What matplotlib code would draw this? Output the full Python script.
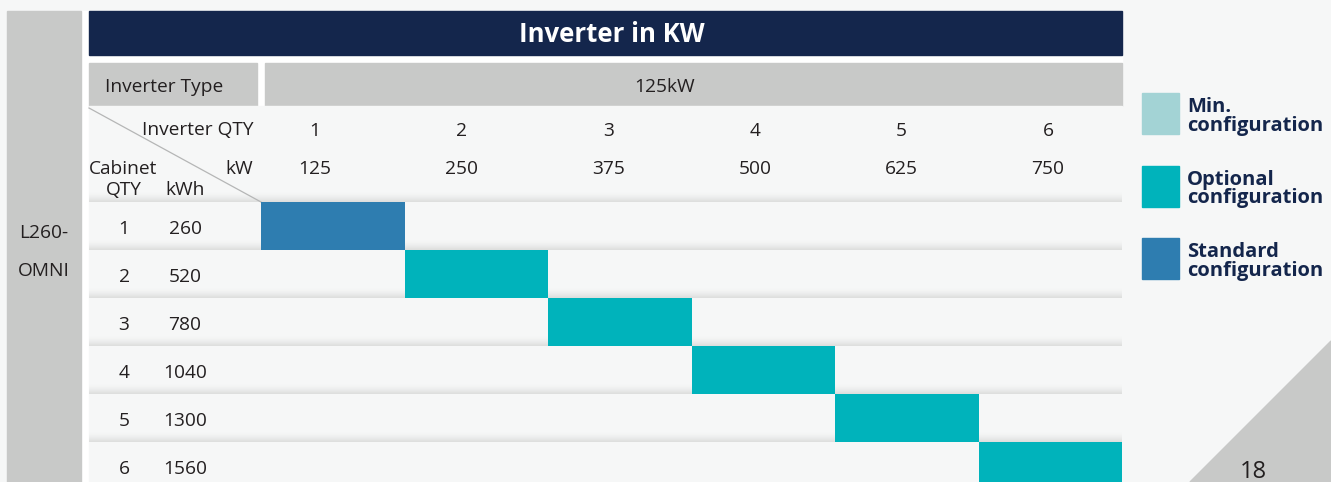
import matplotlib
matplotlib.use("Agg")
import matplotlib.pyplot as plt
from matplotlib.patches import Rectangle, Polygon
from matplotlib.colors import LinearSegmentedColormap
import numpy as np

plt.rcParams['font.family'] = ['Open Sans', 'DejaVu Sans']

# ---- data ----
title = "Inverter in KW"
inverter_type = "125kW"
inverter_qty = [1, 2, 3, 4, 5, 6]
inverter_kw = [125, 250, 375, 500, 625, 750]
cabinet_qty = [1, 2, 3, 4, 5, 6]
cabinet_kwh = [260, 520, 780, 1040, 1300, 1560]
# configuration for (cabinet row -> inverter column)
config_col = [0, 1, 2, 3, 4, 5]
config_type = ["Standard", "Optional", "Optional", "Optional", "Optional", "Optional"]
model_lines = ["L260-", "OMNI"]
legend_labels = [("Min.", "configuration"), ("Optional", "configuration"), ("Standard", "configuration")]
legend_keys = ["Min", "Optional", "Standard"]
page_no = "18"

colors = {"Min": "#A3D3D5", "Optional": "#00B3BB", "Standard": "#2E7DB0"}
NAVY = "#14264C"
GREY = "#C8C9C8"
BG = "#F6F7F7"
TXT = "#231F20"
FS = 13.8

W, H = 1331, 482
fig = plt.figure(figsize=(W / 100, H / 100), dpi=100)
fig.patch.set_facecolor(BG)

# pixel-space axes for layout
ax = fig.add_axes([0, 0, 1, 1])
ax.set_xlim(0, W)
ax.set_ylim(H, 0)
ax.axis("off")

# white panel behind table
ax.add_patch(Rectangle((81, 11), 1041, 480, color="white", zorder=0))
# left grey model column
ax.add_patch(Rectangle((7, 11), 74, 480, color=GREY, zorder=1))
for i, ln in enumerate(model_lines):
    ax.text(44, 233 + 38 * i, ln, ha="center", va="center", fontsize=FS, color=TXT, zorder=5)
# title bar
ax.add_patch(Rectangle((89, 11), 1033, 44, color=NAVY, zorder=1))
ax.text(612, 34, title, ha="center", va="center", fontsize=18.5, fontweight="bold",
        color="white", zorder=5)
# inverter type row
ax.add_patch(Rectangle((89, 63), 168, 43, color=GREY, zorder=1))
ax.add_patch(Rectangle((265, 63), 857, 43, color=GREY, zorder=1))
ax.text(105, 87, "Inverter Type", ha="left", va="center", fontsize=FS, color=TXT, zorder=5)
ax.text(665, 87, inverter_type, ha="center", va="center", fontsize=FS, color=TXT, zorder=5)
# header area + rows background
ax.add_patch(Rectangle((89, 106), 1033, 390, color=BG, zorder=1))

# gradients (row separators)
grad = np.linspace(0, 1, 20).reshape(-1, 1) ** 1.5
gcmap = LinearSegmentedColormap.from_list("g", [BG, "#DDDEDD"])
for yb in [202, 250, 298, 346, 394, 442]:
    ax.imshow(grad, cmap=gcmap, aspect="auto", extent=(89, 1122, yb, yb - 10),
              zorder=2, interpolation="bilinear")
ax.set_xlim(0, W)
ax.set_ylim(H, 0)

# diagonal line
ax.plot([89, 261], [108, 202], color="#B5B6B6", lw=0.9, zorder=3)

# header labels
ax.text(253, 130, "Inverter QTY", ha="right", va="center", fontsize=FS, color=TXT, zorder=5)
ax.text(253, 169, "kW", ha="right", va="center", fontsize=FS, color=TXT, zorder=5)
ax.text(89, 169, "Cabinet", ha="left", va="center", fontsize=FS, color=TXT, zorder=5)
ax.text(124, 190, "QTY", ha="center", va="center", fontsize=FS, color=TXT, zorder=5)
ax.text(185, 190, "kWh", ha="center", va="center", fontsize=FS, color=TXT, zorder=5)
hx0, hdx = 315, 146.6
for i, (q, kw) in enumerate(zip(inverter_qty, inverter_kw)):
    ax.text(hx0 + i * hdx, 131, str(q), ha="center", va="center", fontsize=FS, color=TXT, zorder=5)
    ax.text(hx0 + i * hdx, 169, str(kw), ha="center", va="center", fontsize=FS, color=TXT, zorder=5)

# row labels
for i, (c, k) in enumerate(zip(cabinet_qty, cabinet_kwh)):
    yc = 229 + 48 * i
    ax.text(124, yc, str(c), ha="center", va="center", fontsize=FS, color=TXT, zorder=5)
    ax.text(185, yc, str(k), ha="center", va="center", fontsize=FS, color=TXT, zorder=5)

# legend
for i, (key, lab) in enumerate(zip(legend_keys, legend_labels)):
    y0 = 93 + 72.5 * i
    ax.add_patch(Rectangle((1142, y0), 37, 41, color=colors[key], zorder=3))
    ax.text(1187, y0 + 19, lab[0], ha="left", va="baseline", fontsize=14.5, fontweight="bold",
            color=NAVY, zorder=5)
    ax.text(1187, y0 + 38, lab[1], ha="left", va="baseline", fontsize=14.5, fontweight="bold",
            color=NAVY, zorder=5)

# bottom-right triangle & page number
ax.add_patch(Polygon([(1190, 482), (1331, 341), (1331, 482)], closed=True, color=GREY, zorder=1))
ax.text(1253, 472, page_no, ha="center", va="center", fontsize=17, color=TXT, zorder=5)

# grid axes for configuration cells
gx0, gx1, gy0, gy1 = 261, 1122, 202, 490
gax = fig.add_axes([gx0 / W, 1 - gy1 / H, (gx1 - gx0) / W, (gy1 - gy0) / H])
gax.set_xlim(0, len(inverter_qty))
gax.set_ylim(len(cabinet_qty), 0)
gax.axis("off")
gax.patch.set_alpha(0)
for r, (c, t) in enumerate(zip(config_col, config_type)):
    gax.bar(c + 0.5, 1, bottom=r, width=1, color=colors[t], linewidth=0)

fig.savefig("out.png", dpi=100, facecolor=fig.get_facecolor())
